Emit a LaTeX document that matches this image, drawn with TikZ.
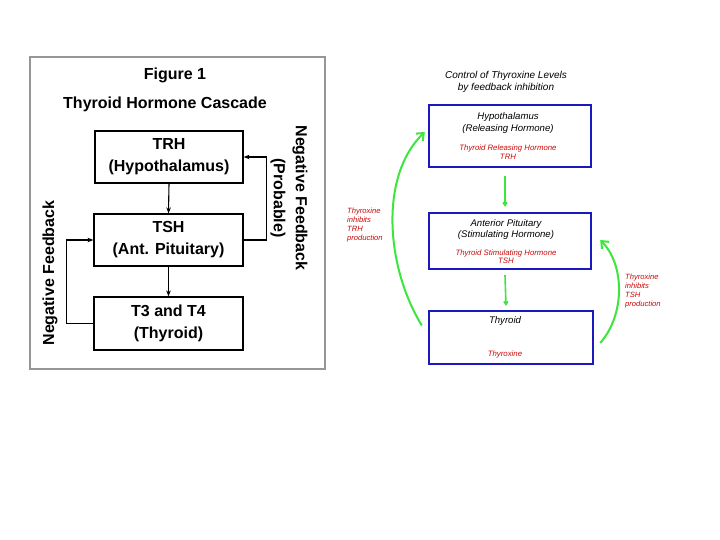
\documentclass[tikz,border=0pt]{standalone}
\usepackage{fontspec}
\setmainfont{Liberation Sans}
\usetikzlibrary{arrows.meta,calc}
\definecolor{fbgreen}{RGB}{60,230,60}
\definecolor{hred}{RGB}{200,10,10}
\definecolor{hblue}{RGB}{25,25,190}
\definecolor{framegray}{RGB}{150,150,150}
\begin{document}
\begin{tikzpicture}[x=1pt,y=-1pt,
  bigfont/.style={font=\fontsize{16}{22}\selectfont\bfseries},
  cbox/.style={draw=black,line width=1.2pt,rectangle,inner sep=0pt,align=center,bigfont},
  carrow/.style={draw=black,line width=1.1pt,-{Stealth[length=6pt,width=4.5pt]}},
  bbox/.style={draw=hblue,line width=2.4pt,rectangle,inner sep=0pt},
  btext/.style={font=\fontsize{9.6}{11}\selectfont\itshape,inner sep=0pt},
  rtext/.style={font=\fontsize{7.8}{9}\selectfont\itshape,text=hred,inner sep=0pt},
  sidetext/.style={font=\fontsize{7.6}{9}\selectfont\itshape,text=hred,align=left,inner sep=0pt},
  garrow/.style={draw=fbgreen,line width=2pt,-{Straight Barb[length=6pt,width=10pt]}},
  gsmall/.style={draw=fbgreen,line width=1.6pt,-{Straight Barb[length=3pt,width=4pt]}}
]
\useasboundingbox (0,0) rectangle (720,540);
\fill[white] (0,0) rectangle (720,540);

% ---------- left panel ----------
\draw[framegray,line width=1.5pt] (30,57) rectangle (325,369);
\node[bigfont] (fig) at (175,75) {Figure 1};
\node[bigfont] (casc) at (165,104) {Thyroid Hormone Cascade};

\node[cbox,minimum width=148pt,minimum height=52pt] (trh) at (169,157) {TRH\\(Hypothalamus)};
\node[cbox,minimum width=149pt,minimum height=52pt] (tsh) at (168.5,240) {TSH\\(Ant. Pituitary)};
\node[cbox,minimum width=149pt,minimum height=53pt] (t34) at (168.5,323.5) {T3 and T4\\(Thyroid)};

\draw[carrow] (trh.south) -- (tsh.north);
\draw[carrow] (tsh.south) -- (t34.north);
\draw[carrow] (tsh.east) -- ++(23,0) |- (trh.east);
\draw[carrow] (t34.west) -- ++(-27,0) |- (tsh.west);

\node[bigfont,rotate=90] (nfl) at (50,273) {Negative Feedback};
\node[bigfont,rotate=-90,align=center] (nfr) at (289,198) {Negative Feedback\\(Probable)};

% ---------- right panel ----------
\node[btext,align=center,font=\fontsize{10}{12}\selectfont\itshape] (ttl) at (506,82) {Control of Thyroxine Levels\\by feedback inhibition};

\node[bbox,minimum width=162pt,minimum height=62pt] (hyp) at (510,136) {};
\node[bbox,minimum width=162pt,minimum height=56pt] (ap) at (510,241) {};
\node[bbox,minimum width=164pt,minimum height=53pt] (thy) at (511,337.5) {};

\node[btext] (h1) at (508,117) {Hypothalamus};
\node[btext] (h2) at (508,129) {(Releasing Hormone)};
\node[rtext] (h3) at (508,148) {Thyroid Releasing Hormone};
\node[rtext] (h4) at (508,157) {TRH};

\node[btext] (a1) at (506,224) {Anterior Pituitary};
\node[btext] (a2) at (506,235) {(Stimulating Hormone)};
\node[rtext] (a3) at (506,253) {Thyroid Stimulating Hormone};
\node[rtext] (a4) at (506,261) {TSH};

\node[btext] (t1) at (505,321) {Thyroid};
\node[rtext] (t2) at (505,354) {Thyroxine};

\draw[gsmall] ($(hyp.south)+(-5,8)$) -- ($(ap.north)+(-5,-5)$);
\draw[gsmall] ($(ap.south)+(-5,5)$) -- ($(thy.north)+(-5,-4)$);

\draw[garrow] ($(thy.west)+(-6,-12)$) .. controls (385,265) and (380,175) .. ($(hyp.west)+(-3,-4)$);
\draw[garrow] ($(thy.east)+(6,5.5)$) .. controls (625,315) and (625,265) .. ($(ap.east)+(8,-1)$);

\node[sidetext,anchor=west] (ls) at (347,225.5) {Thyroxine\\inhibits\\TRH\\production};
\node[sidetext,anchor=west] (rs) at (625,291) {Thyroxine\\inhibits\\TSH\\production};
\end{tikzpicture}
\end{document}
